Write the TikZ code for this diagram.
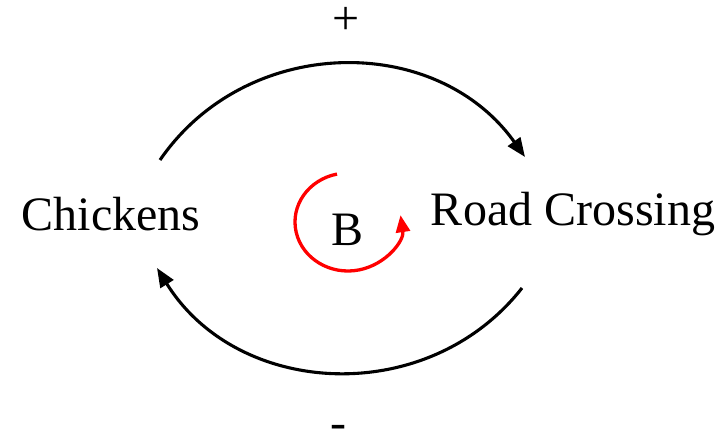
\documentclass[tikz,border=0pt]{standalone}
\usepackage{fontspec}
\setmainfont{Liberation Serif}
\usetikzlibrary{arrows.meta}

\begin{document}
\begin{tikzpicture}[x=1pt, y=1pt]
    % Define colours and styles
    \definecolor{linkColour}{HTML}{000000}
    \definecolor{loopColour}{HTML}{FF0000}
    \tikzset{
        label/.style={font=\fontsize{48}{58}\selectfont, inner sep=0pt},
        link/.style={draw=linkColour, line width=3.1pt, -{Triangle[length=19pt, width=15pt]}},
        loop/.style={draw=loopColour, line width=3.3pt, -{Triangle[length=17pt, width=14pt]}}
    }

    % Fix the picture size
    \useasboundingbox (0,0) rectangle (722,436);

    % Draw the variables
    \node[label] (chickens) at (111,222) {Chickens};
    \node[label] (road) at (573,222) {Road Crossing};
    \node[label] (loopName) at (348,206) {B};

    % Draw the polarity signs
    \node[label] (plus) at (346,415) {+};
    \node[label] (minus) at (338,4) {-};

    % Define the ends of the links
    \coordinate (topStart) at (160,276);
    \coordinate (topEnd) at (525,279);
    \coordinate (bottomStart) at (522,148);
    \coordinate (bottomEnd) at (157,168);

    % Draw the links
    \draw[link] (topStart) to[bend left=55, looseness=1.07] (topEnd);
    \draw[link] (bottomStart) to[bend left=55, looseness=1.07] (bottomEnd);

    % Draw the balancing loop marker
    \coordinate (loopCentre) at (348,214);
    \draw[loop] ([shift={(102:53 and 49)}]loopCentre) arc[start angle=102, end angle=368, x radius=53, y radius=49];

\end{tikzpicture}
\end{document}
